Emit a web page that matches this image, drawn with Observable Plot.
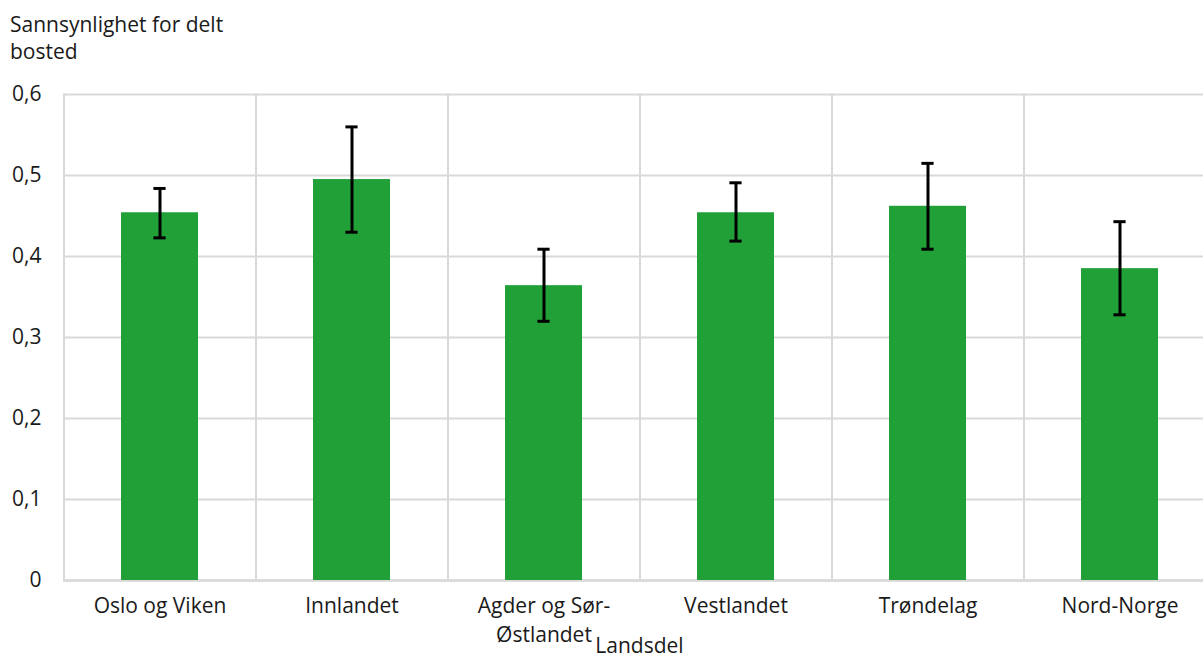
<!DOCTYPE html>
<html>
<head>
<meta charset="utf-8">
<script src="https://cdn.jsdelivr.net/npm/d3@7"></script>
<script src="https://cdn.jsdelivr.net/npm/@observablehq/plot@0.6"></script>
<style>
  html, body { margin: 0; padding: 0; background: #fff; overflow: hidden; width: 1203px; height: 659px; }
  #wrap { position: relative; width: 1203px; height: 659px; overflow: hidden; font-family: "Open Sans", sans-serif; }
  #title { position: absolute; left: 10px; top: 11px; font-size: 21px; line-height: 27px; color: #1a1a1a; z-index: 2; }
  #chart { position: absolute; left: 0; top: 0; }
  #chart svg { max-width: none !important; width: 1215px !important; height: 659px !important; }
</style>
</head>
<body>
<div id="wrap">
  <div id="title">Sannsynlighet for delt<br>bosted</div>
  <div id="chart"></div>
</div>
<script>
const categories = ["Oslo og Viken", "Innlandet", "Agder og Sør-Østlandet", "Vestlandet", "Trøndelag", "Nord-Norge"];
const tickLabels = ["Oslo og Viken", "Innlandet", "Agder og Sør-\nØstlandet", "Vestlandet", "Trøndelag", "Nord-Norge"];
const values = [0.454, 0.495, 0.364, 0.454, 0.462, 0.385];
const lower = [0.423, 0.430, 0.320, 0.419, 0.409, 0.328];
const upper = [0.484, 0.560, 0.409, 0.491, 0.515, 0.443];
const yTicks = [0, 0.1, 0.2, 0.3, 0.4, 0.5, 0.6];

const data = categories.map((c, i) => ({cat: c, v: values[i], lo: lower[i], hi: upper[i]}));
const labelOf = new Map(categories.map((c, i) => [c, tickLabels[i]]));

const W = 1215, H = 659, mL = 63, mR = 0;
const step = (W - mL - mR) / categories.length;
const bw = step * 0.4;
const capInset = (bw - 12) / 2;

const chart = Plot.plot({
  width: W,
  height: H,
  marginLeft: mL,
  marginRight: mR,
  marginTop: 94,
  marginBottom: 79,
  style: {fontFamily: "Open Sans, sans-serif", fontSize: "21px", color: "#1a1a1a", background: "transparent"},
  x: {domain: categories, paddingInner: 0.6, paddingOuter: 0.3},
  y: {domain: [0, 0.6]},
  marks: [
    Plot.gridY(yTicks, {stroke: "#d9d9d9", strokeWidth: 2, strokeOpacity: 1}),
    Plot.ruleX(categories, {x: d => d, dx: -step / 2, y1: 0, y2: 0.6, stroke: "#d9d9d9", strokeWidth: 2}),
    Plot.ruleY([0], {stroke: "#d9d9d9", strokeWidth: 2.5}),
    Plot.barY(data, {x: "cat", y: "v", fill: "#21a038"}),
    Plot.ruleX(data, {x: "cat", y1: "lo", y2: "hi", stroke: "#000", strokeWidth: 3}),
    Plot.tickY(data, {x: "cat", y: "lo", stroke: "#000", strokeWidth: 3, insetLeft: capInset, insetRight: capInset}),
    Plot.tickY(data, {x: "cat", y: "hi", stroke: "#000", strokeWidth: 3, insetLeft: capInset, insetRight: capInset}),
    Plot.axisY(yTicks, {tickSize: 0, tickPadding: 22, tickFormat: d => d === 0 ? "0" : d3.format(".1f")(d).replace(".", ","), label: null, fill: "#1a1a1a"}),
    Plot.axisX({tickSize: 0, tickPadding: 11, tickFormat: d => labelOf.get(d), lineHeight: 1.42, label: "Landsdel", labelAnchor: "center", labelOffset: 72, labelArrow: "none", fill: "#1a1a1a"})
  ]
});
document.getElementById("chart").appendChild(chart);
</script>
</body>
</html>
